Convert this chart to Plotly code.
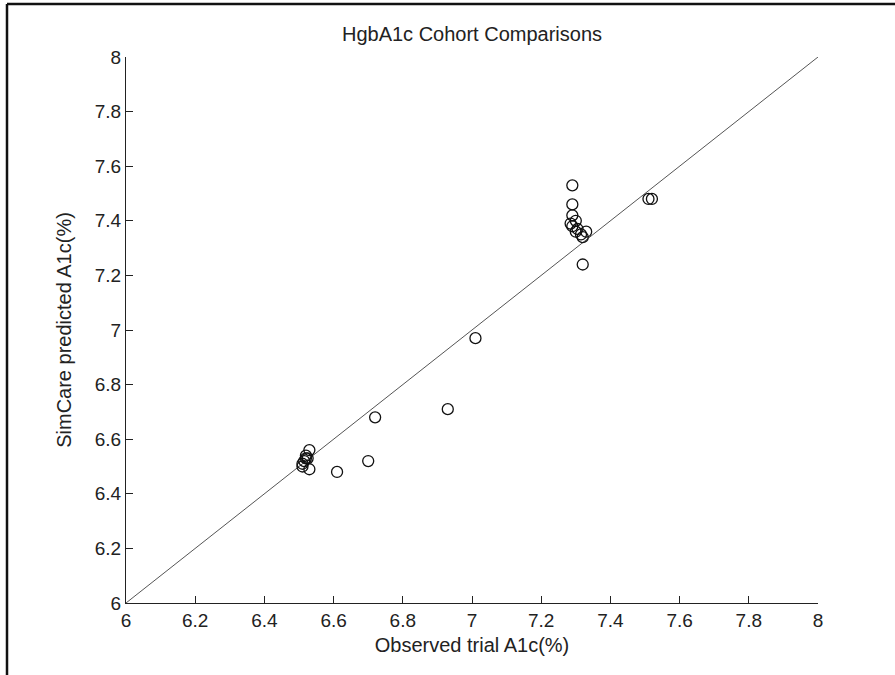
import plotly.graph_objects as go

# Observed trial A1c (%) vs SimCare predicted A1c (%)
observed = [6.51, 6.515, 6.52, 6.52, 6.525, 6.53, 6.53, 6.51,
            6.61, 6.70, 6.72, 6.93, 7.01,
            7.29, 7.29, 7.29, 7.285, 7.29, 7.30, 7.305, 7.30, 7.32, 7.315, 7.33, 7.32,
            7.51, 7.52]
predicted = [6.51, 6.52, 6.53, 6.54, 6.53, 6.56, 6.49, 6.50,
             6.48, 6.52, 6.68, 6.71, 6.97,
             7.53, 7.46, 7.42, 7.39, 7.38, 7.40, 7.37, 7.36, 7.34, 7.35, 7.36, 7.24,
             7.48, 7.48]
identity_line = [6, 8]
tick_vals = [6, 6.2, 6.4, 6.6, 6.8, 7, 7.2, 7.4, 7.6, 7.8, 8]
tick_text = ["6", "6.2", "6.4", "6.6", "6.8", "7", "7.2", "7.4", "7.6", "7.8", "8"]

FONT = "Liberation Sans, Arial, sans-serif"
W, H = 895, 675
L, R, T, B = 126, 818, 57, 603

fig = go.Figure()
fig.add_trace(go.Scatter(x=identity_line, y=identity_line, mode="lines",
                         line=dict(color="#555555", width=1), hoverinfo="skip",
                         showlegend=False))
fig.add_trace(go.Scatter(x=observed, y=predicted, mode="markers",
                         marker=dict(symbol="circle-open", size=11,
                                     color="#111111", line=dict(width=1.3)),
                         showlegend=False))

axis_common = dict(range=[6, 8], tickvals=tick_vals, ticktext=tick_text,
                   ticks="inside", ticklen=7, tickwidth=1.3, tickcolor="#222222",
                   showline=True, linecolor="#222222", linewidth=1.3,
                   showgrid=False, zeroline=False, mirror=False,
                   tickfont=dict(family=FONT, size=19, color="#222222"))

fig.update_layout(
    width=W, height=H,
    margin=dict(l=L, r=W - R, t=T, b=H - B),
    paper_bgcolor="white", plot_bgcolor="white",
    title=dict(text="HgbA1c Cohort Comparisons", x=0.5, xref="paper",
               y=1 - 34 / H, yanchor="middle",
               font=dict(family=FONT, size=20, color="#222222")),
    xaxis=dict(axis_common,
               title=dict(text="Observed trial A1c(%)", standoff=8,
                          font=dict(family=FONT, size=20, color="#222222"))),
    yaxis=dict(axis_common,
               title=dict(text="SimCare predicted A1c(%)", standoff=17,
                          font=dict(family=FONT, size=20, color="#222222"))),
)

# outer figure frame (top and left edges visible in the reference)
pw, ph = R - L, B - T
def px(xp):
    return (xp - L) / pw
def py(yp):
    return (B - yp) / ph
fig.add_shape(type="line", xref="paper", yref="paper",
              x0=px(7), x1=px(W + 5), y0=py(4), y1=py(4),
              line=dict(color="#111111", width=2.5))
fig.add_shape(type="line", xref="paper", yref="paper",
              x0=px(7), x1=px(7), y0=py(4), y1=py(H + 5),
              line=dict(color="#111111", width=2.5))

fig.write_html("out.html")
